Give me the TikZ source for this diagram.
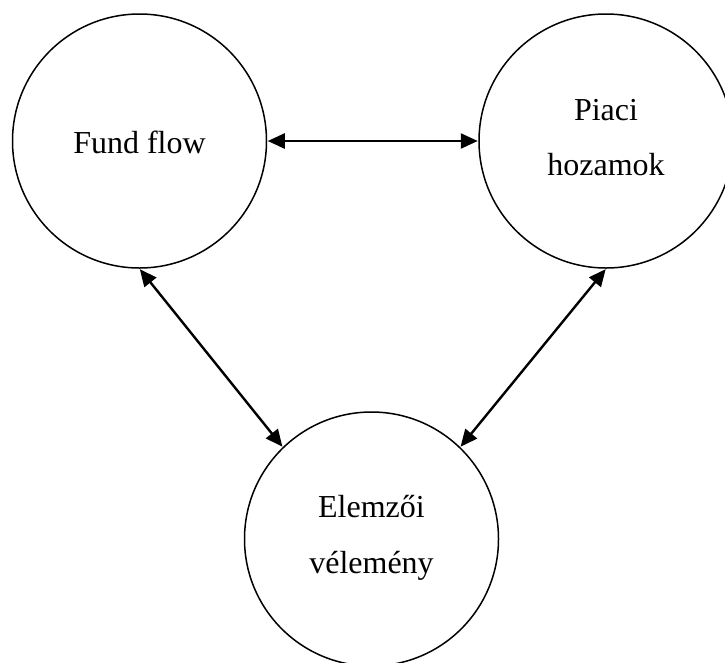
\documentclass[tikz,border=0pt]{standalone}
\usepackage{fontspec}
\setmainfont{Liberation Serif}
\usetikzlibrary{arrows.meta}
\begin{document}
\begin{tikzpicture}[x=1pt,y=-1pt,
  bubble/.style={circle,draw,line width=1.5pt,minimum size=254pt,inner sep=0pt},
  word/.style={anchor=base,inner sep=0pt,font=\fontsize{32}{40}\selectfont},
  conn/.style={line width=2.4pt,{Triangle[length=17pt,width=15pt]}-{Triangle[length=17pt,width=15pt]},shorten <=0.5pt,shorten >=0.5pt}]
\useasboundingbox (0,0) rectangle (725,662);
\clip (0,0) rectangle (725,662);
% the three circles
\node[bubble] (ff) at (139.5,141) {};
\node[bubble] (pq) at (606,141) {};
\node[bubble] (ev) at (371.5,539) {};
% labels
\node[word] (ffa) at (139.5,153) {Fund flow};
\node[word] (pqa) at (606,120) {Piaci};
\node[word] (pqb) at (606,175) {hozamok};
\node[word] (eva) at (371.5,517) {Elemzői};
\node[word] (evb) at (371.5,573) {vélemény};
% two-way links
\draw[conn] (ff.east) -- (pq.west);
\draw[conn] (ff.south) -- (ev.134);
\draw[conn] (pq.south) -- (ev.46);
\end{tikzpicture}
\end{document}
